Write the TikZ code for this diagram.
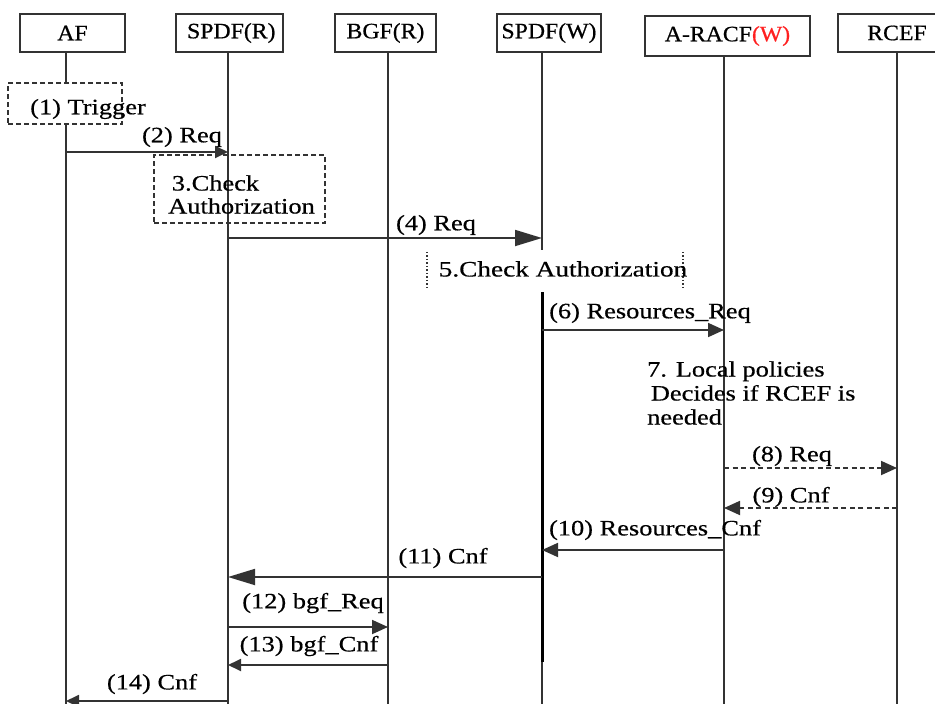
\documentclass[tikz,border=0pt]{standalone}
\usepackage{fontspec}
\setmainfont{Liberation Serif}[FakeStretch=1.2,FakeBold=0.5]
\newfontfamily\boxfont{Liberation Serif}[FakeStretch=1.08,FakeBold=0.6]
\newfontfamily\widefont{Liberation Serif}[FakeStretch=1.24,FakeBold=0.5]
\usetikzlibrary{arrows.meta}
\definecolor{ln}{HTML}{333333}
\definecolor{wred}{HTML}{FF2020}
\begin{document}
\begin{tikzpicture}[x=1pt,y=-1pt,
  ent/.style={draw=ln,line width=1.8pt,fill=white,inner sep=0pt,font=\boxfont\fontsize{22}{24}\selectfont},
  life/.style={draw=ln,line width=1.8pt},
  msg/.style={draw=ln,line width=1.8pt},
  lbl/.style={inner sep=0pt,font=\fontsize{22}{24}\selectfont},
  bigtip/.style={-{Triangle[length=27pt,width=16pt]}},
  midtip/.style={-{Triangle[length=16pt,width=14pt]}},
  smalltip/.style={-{Triangle[length=13pt,width=12pt]}},
  dashbox/.style={draw=ln,line width=1.5pt,dash pattern=on 5pt off 3pt},
  dashmsg/.style={dash pattern=on 5pt off 3.5pt},
  dotside/.style={draw=ln,line width=2.5pt,dash pattern=on 1.5pt off 2pt},
]
\useasboundingbox (0,0) rectangle (935,704);
\clip (0,0) rectangle (935,704);
\fill[white] (0,0) rectangle (935,704);

% lifeline coordinates
\coordinate (afT) at (66,52);  \coordinate (afB) at (66,706);
\coordinate (srT) at (228,52); \coordinate (srB) at (228,706);
\coordinate (bgT) at (388,52); \coordinate (bgB) at (388,706);
\coordinate (swT) at (542,52); \coordinate (swB) at (542,706);
\coordinate (raT) at (724,56); \coordinate (raB) at (724,706);
\coordinate (rcT) at (897,52); \coordinate (rcB) at (897,706);
\coordinate (sw1) at (542,292); \coordinate (sw2) at (542,662);

% message rows
\coordinate (r2) at (0,152);
\coordinate (r4) at (0,238);
\coordinate (r6) at (0,330);
\coordinate (r8) at (0,468);
\coordinate (r9) at (0,508);
\coordinate (r10) at (0,550);
\coordinate (r11) at (0,577);
\coordinate (r12) at (0,627);
\coordinate (r13) at (0,665);
\coordinate (r14) at (0,701);

% lifelines
\draw[life] (afT) -- (afB);
\draw[life] (srT) -- (srB);
\draw[life] (bgT) -- (bgB);
\draw[life] (swT) -- (swB);
\draw[life] (raT) -- (raB);
\draw[life] (rcT) -- (rcB);
\draw[line width=3pt,black] (sw1) -- (sw2);

% entity boxes
\node[ent,minimum width=105pt,minimum height=38pt] (af) at (72.5,33) {AF};
\node[ent,minimum width=107pt,minimum height=38pt] (spr) at (229.5,33) {\,SPDF(R)};
\node[ent,minimum width=101pt,minimum height=38pt] (bgf) at (385.5,33) {BGF(R)};
\node[ent,minimum width=104pt,minimum height=38pt] (spw) at (549,33) {SPDF(W)};
\node[ent,minimum width=165pt,minimum height=40pt] (racf) at (727.5,36) {A-RACF\textcolor{wred}{(W)}};
\node[ent,minimum width=118pt,minimum height=38pt] (rcef) at (897,33) {RCEF};

% (1) trigger
\node[dashbox,fill=white,minimum width=114pt,minimum height=41pt,inner sep=0pt] (trig) at (65,103.5) {};
\node[lbl] (t1) at (88,109) {(1) Trigger};

% (2)
\draw[msg,smalltip] (afT |- r2) -- (srT |- r2);
\node[lbl] (t2) at (182,137) {(2) Req};

% 3 check box
\node[dashbox,minimum width=171pt,minimum height=68pt,inner sep=0pt] (chk3) at (239.5,189) {};
\node[lbl,anchor=west,align=left,font=\fontsize{22}{23}\selectfont] (t3) at (168,194.5) {\,3.Check\\Authorization};

% (4)
\draw[msg,bigtip] (srT |- r4) -- (swT |- r4);
\node[lbl] (t4) at (436,225) {(4) Req};

% 5 check
\node[fill=white,minimum width=256pt,minimum height=42pt,inner sep=0pt] (chk5) at (555,271) {};
\draw[dotside] ([yshift=-2pt]chk5.north west) -- ([yshift=2pt]chk5.south west);
\draw[dotside] ([yshift=-2pt]chk5.north east) -- ([yshift=2pt]chk5.south east);
\node[lbl,font=\widefont\fontsize{22}{24}\selectfont] (t5) at (563,269) {5.Check Authorization};

% (6)
\draw[msg,midtip] (swT |- r6) -- (raT |- r6);
\node[lbl] (t6) at (650,313) {(6) Resources\_Req};

% 7 local policies
\node[lbl,anchor=west,align=left,font=\fontsize{22}{24}\selectfont] (t7) at (647,393) {7. Local policies\\\,Decides if RCEF is\\needed};

% (8) (9)
\draw[msg,midtip,dashmsg] (raT |- r8) -- (rcT |- r8);
\node[lbl] (t8) at (792,456) {(8) Req};
\draw[msg,midtip,dashmsg] (rcT |- r9) -- (raT |- r9);
\node[lbl] (t9) at (791,497) {(9) Cnf};

% (10)
\draw[msg,midtip] (raT |- r10) -- (swT |- r10);
\node[lbl] (t10) at (655,530) {(10) Resources\_Cnf};

% (11)
\draw[msg,bigtip] (swT |- r11) -- (srT |- r11);
\node[lbl] (t11) at (443,558) {(11) Cnf};

% (12)
\draw[msg,midtip] (srT |- r12) -- (bgT |- r12);
\node[lbl] (t12) at (313,603) {(12) bgf\_Req};

% (13)
\draw[msg,smalltip] (bgT |- r13) -- (srT |- r13);
\node[lbl] (t13) at (309,646) {(13) bgf\_Cnf};

% (14)
\draw[msg,smalltip] (srT |- r14) -- (afT |- r14);
\node[lbl] (t14) at (152,684) {(14) Cnf};
\end{tikzpicture}
\end{document}
